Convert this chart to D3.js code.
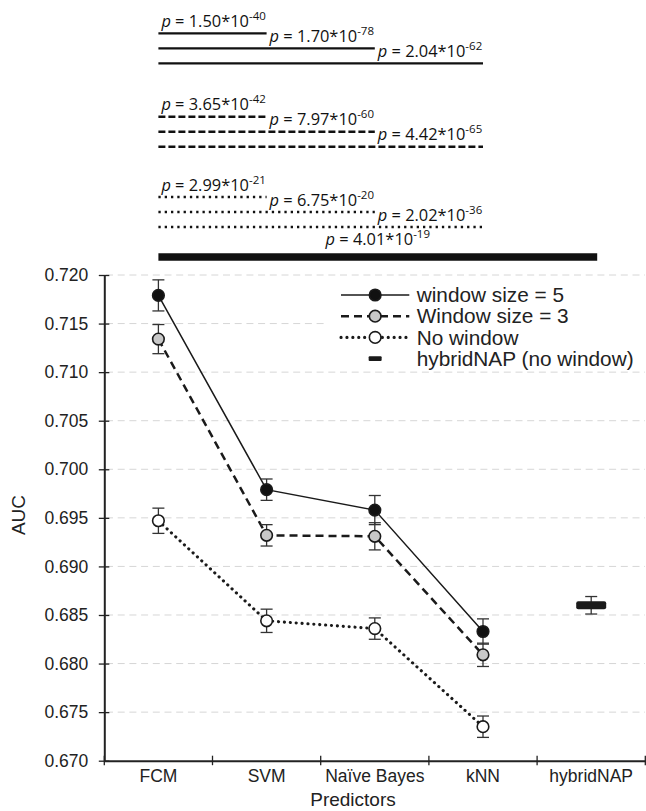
<!DOCTYPE html>
<html>
<head>
<meta charset="utf-8">
<script src="https://cdn.jsdelivr.net/npm/d3@7"></script>
<style>
  body { margin: 0; background: #fff; }
  text { font-family: "Liberation Sans", Arial, sans-serif; fill: #222; }
  .ptext { font-family: "Open Sans", Lato, sans-serif; fill: #111; }
</style>
</head>
<body>
<div id="chart"></div>
<script>
// ---- data ----
var predictors = ["FCM", "SVM", "Naïve Bayes", "kNN", "hybridNAP"];
var seriesNames = ["window size = 5", "Window size = 3", "No window"];
var win5 = [0.7179, 0.6979, 0.6958, 0.6833];
var win5Err = [0.0016, 0.0011, 0.0015, 0.0013];
var win3 = [0.7134, 0.6932, 0.6931, 0.6809];
var win3Err = [0.0015, 0.0011, 0.0014, 0.0012];
var noWin = [0.6947, 0.6844, 0.6836, 0.6735];
var noWinErr = [0.0013, 0.0012, 0.0011, 0.0011];
var hybridName = "hybridNAP (no window)";
var hybridAUC = 0.6860;
var hybridErr = 0.0009;
var yTicks = [0.670, 0.675, 0.680, 0.685, 0.690, 0.695, 0.700, 0.705, 0.710, 0.715, 0.720];

// p-values: FCM compared with the other predictors
var pMant = ["1.50", "1.70", "2.04", "3.65", "7.97", "4.42", "2.99", "6.75", "2.02", "4.01"];
var pExp = ["-40", "-78", "-62", "-42", "-60", "-65", "-21", "-20", "-36", "-19"];
var pTo = ["SVM", "Naïve Bayes", "kNN", "SVM", "Naïve Bayes", "kNN", "SVM", "Naïve Bayes", "kNN", "hybridNAP"];
var pGroup = [0, 0, 0, 1, 1, 1, 2, 2, 2, 3];

var width = 646, height = 811;

var svg = d3.select("#chart").append("svg")
    .attr("width", width)
    .attr("height", height);

var xScale = d3.scaleBand()
    .domain(predictors)
    .range([104.3, 645.3]);
var cx = d => xScale(d) + xScale.bandwidth() / 2;

var yScale = d3.scaleLinear()
    .domain([0.670, 0.720])
    .range([760.7, 275]);

var styles = [
  {stroke: "#1a1a1a", width: 1.5, dash: null, cap: "butt", fill: "#111"},
  {stroke: "#1a1a1a", width: 2.5, dash: "8,5", cap: "butt", fill: "#c8c8c8"},
  {stroke: "#1a1a1a", width: 3.1, dash: "0.1,5.8", cap: "round", fill: "#fff"}
];

// gridlines
svg.append("g")
  .selectAll("line")
  .data(yTicks.slice(1))
  .join("line")
    .attr("x1", 106).attr("x2", 645)
    .attr("y1", d => yScale(d)).attr("y2", d => yScale(d))
    .attr("stroke", "#d6d6d6")
    .attr("stroke-dasharray", "7,4.7");

// legend background hides grid
svg.append("rect")
    .attr("x", 327).attr("y", 281)
    .attr("width", 319).attr("height", 86)
    .attr("fill", "#fff");

var series = [win5, win3, noWin].map((vals, i) => ({
  name: seriesNames[i],
  style: styles[i],
  points: vals.map((v, j) => ({cat: predictors[j], v: v, e: [win5Err, win3Err, noWinErr][i][j]}))
}));

var line = d3.line().x(d => cx(d.cat)).y(d => yScale(d.v));

// connecting lines
svg.append("g")
  .selectAll("path")
  .data(series)
  .join("path")
    .attr("d", d => line(d.points))
    .attr("fill", "none")
    .attr("stroke", d => d.style.stroke)
    .attr("stroke-width", d => d.style.width)
    .attr("stroke-dasharray", d => d.style.dash)
    .attr("stroke-linecap", d => d.style.cap);

// error bars
var allPts = series.flatMap(s => s.points).concat([{cat: "hybridNAP", v: hybridAUC, e: hybridErr}]);
var eb = svg.append("g")
    .attr("stroke", "#333")
    .attr("stroke-width", 1.3)
  .selectAll("g")
  .data(allPts)
  .join("g");
eb.append("line")
    .attr("x1", d => cx(d.cat)).attr("x2", d => cx(d.cat))
    .attr("y1", d => yScale(d.v - d.e)).attr("y2", d => yScale(d.v + d.e));
eb.append("line")
    .attr("x1", d => cx(d.cat) - 6).attr("x2", d => cx(d.cat) + 6)
    .attr("y1", d => yScale(d.v + d.e)).attr("y2", d => yScale(d.v + d.e));
eb.append("line")
    .attr("x1", d => cx(d.cat) - 6).attr("x2", d => cx(d.cat) + 6)
    .attr("y1", d => yScale(d.v - d.e)).attr("y2", d => yScale(d.v - d.e));

// markers
svg.append("g")
  .selectAll("g")
  .data(series)
  .join("g")
    .attr("fill", d => d.style.fill)
    .attr("stroke", "#1a1a1a")
    .attr("stroke-width", 1.6)
  .selectAll("circle")
  .data(d => d.points)
  .join("circle")
    .attr("cx", d => cx(d.cat))
    .attr("cy", d => yScale(d.v))
    .attr("r", 5.8);

svg.append("rect")
    .attr("x", cx("hybridNAP") - 15)
    .attr("y", yScale(hybridAUC) - 4)
    .attr("width", 30).attr("height", 8)
    .attr("rx", 2)
    .attr("fill", "#1a1a1a");

// y axis
var yAxis = d3.axisLeft(yScale)
    .tickValues(yTicks)
    .tickFormat(d3.format(".3f"))
    .tickSizeInner(0)
    .tickSizeOuter(0)
    .tickPadding(16);
var gy = svg.append("g")
    .attr("transform", "translate(104.3,0)")
    .call(yAxis);
gy.select(".domain").attr("stroke", "#222").attr("stroke-width", 2);
gy.selectAll(".tick line").attr("x1", -5.5).attr("x2", 5).attr("stroke", "#222").attr("stroke-width", 1.3);
gy.selectAll("text").style("font-size", "17.5px").attr("fill", "#222");

// x axis
var xAxis = d3.axisBottom(xScale)
    .tickSizeInner(0)
    .tickSizeOuter(0)
    .tickPadding(9);
var gx = svg.append("g")
    .attr("transform", "translate(0,760.7)")
    .call(xAxis);
gx.select(".domain").attr("stroke", "#222").attr("stroke-width", 2);
gx.selectAll("text").style("font-size", "17.5px").attr("fill", "#222");
gx.selectAll(".bound")
  .data(predictors.map(d => xScale(d)).concat([xScale.range()[1]]))
  .join("line")
    .attr("class", "bound")
    .attr("x1", d => d).attr("x2", d => d)
    .attr("y1", -5).attr("y2", 4.5)
    .attr("stroke", "#222").attr("stroke-width", 1.3);

// axis titles
svg.append("text")
    .attr("transform", "translate(25,515) rotate(-90)")
    .attr("text-anchor", "middle")
    .style("font-size", "19px")
    .text("AUC");
svg.append("text")
    .attr("x", 353).attr("y", 806)
    .attr("text-anchor", "middle")
    .style("font-size", "19px")
    .text("Predictors");

// legend
var legX0 = 341, legX1 = 409.3, legTop = 295, legGap = 21.2;
var leg = svg.append("g");
series.forEach(function (s, i) {
  var yy = legTop + i * legGap;
  leg.append("line")
      .attr("x1", legX0).attr("x2", legX1)
      .attr("y1", yy).attr("y2", yy)
      .attr("stroke", s.style.stroke)
      .attr("stroke-width", s.style.width)
      .attr("stroke-dasharray", s.style.dash)
      .attr("stroke-linecap", s.style.cap);
  leg.append("circle")
      .attr("cx", (legX0 + legX1) / 2).attr("cy", yy).attr("r", 5.8)
      .attr("fill", s.style.fill).attr("stroke", "#1a1a1a").attr("stroke-width", 1.6);
  leg.append("text")
      .attr("x", 416.7).attr("y", yy).attr("dy", "0.35em")
      .style("font-size", "20.8px")
      .text(s.name);
});
leg.append("rect")
    .attr("x", (legX0 + legX1) / 2 - 6.5).attr("y", legTop + 3 * legGap - 2.3)
    .attr("width", 13).attr("height", 4.6).attr("rx", 1)
    .attr("fill", "#1a1a1a");
leg.append("text")
    .attr("x", 416.7).attr("y", legTop + 3 * legGap).attr("dy", "0.35em")
    .style("font-size", "20.8px")
    .text(hybridName);

// p-value brackets above the plot
var annTop = [33.3, 116.7, 197], annGap = 15, barY = 257;
var annStyles = [
  {width: 2.3, dash: null},
  {width: 2.5, dash: "7,3"},
  {width: 2.7, dash: "2.3,4"},
  {width: 7.5, dash: null}
];
var ann = svg.append("g");
pMant.forEach(function (m, i) {
  var g = pGroup[i];
  var row = g < 3 ? i - g * 3 : 0;
  var yy = g < 3 ? annTop[g] + row * annGap : barY;
  var xa = cx("FCM");
  var xb = g < 3 ? cx(pTo[i]) : cx(pTo[i]) + 6;
  ann.append("line")
      .attr("x1", xa).attr("x2", xb)
      .attr("y1", yy).attr("y2", yy)
      .attr("stroke", "#111")
      .attr("stroke-width", annStyles[g].width)
      .attr("stroke-dasharray", annStyles[g].dash);
  var t = ann.append("text")
      .attr("class", "ptext")
      .style("font-size", "16.4px");
  if (g < 3) {
    t.attr("x", cx(predictors[row]) + 3).attr("y", yy - 6.5);
  } else {
    t.attr("x", (xa + xb) / 2).attr("y", yy - 12).attr("text-anchor", "middle");
  }
  t.append("tspan").style("font-style", "italic").text("p");
  t.append("tspan").text(" = " + m + "*10");
  t.append("tspan").attr("dy", -7).style("font-size", "11.5px").text(pExp[i]);
});
</script>
</body>
</html>
